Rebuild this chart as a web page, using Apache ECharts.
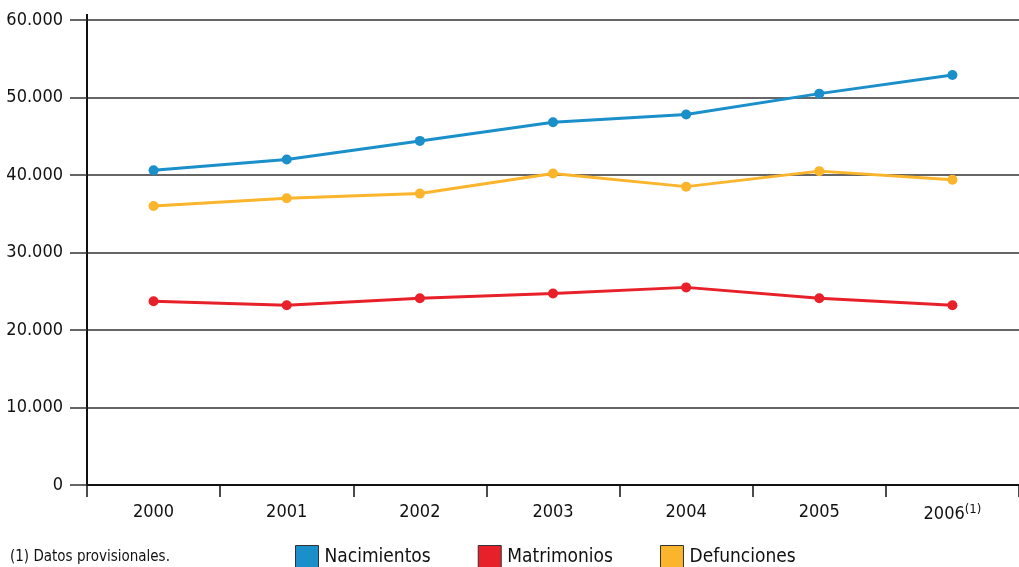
<!DOCTYPE html>
<html>
<head>
<meta charset="utf-8">
<script src="https://cdn.jsdelivr.net/npm/echarts@6/dist/echarts.min.js"></script>
<style>
html,body{margin:0;padding:0;background:#fff;}
#chart{width:1019px;height:567px;}
</style>
</head>
<body>
<div id="chart"></div>
<script>
var years = ['2000', '2001', '2002', '2003', '2004', '2005', '2006'];
var nacimientos = [40600, 42000, 44400, 46800, 47800, 50500, 52900];
var matrimonios = [23700, 23200, 24100, 24700, 25500, 24100, 23200];
var defunciones = [36000, 37000, 37600, 40200, 38500, 40500, 39400];
var seriesNames = ['Nacimientos', 'Matrimonios', 'Defunciones'];
var footnote = '(1) Datos provisionales.';

var FONT = "'DejaVu Sans Condensed', 'Roboto', sans-serif";
var colors = ['#1a8fca', '#e8202a', '#fbb52c'];

function fmt(v) {
  return String(v).replace(/\B(?=(\d{3})+(?!\d))/g, '.');
}

var chart = echarts.init(document.getElementById('chart'));
var seriesData = [nacimientos, matrimonios, defunciones];
chart.setOption({
  animation: false,
  color: colors,
  textStyle: { fontFamily: FONT },
  title: {
    text: footnote,
    left: 5,
    top: 545,
    textStyle: { fontFamily: FONT, fontSize: 15, fontWeight: 'normal', color: '#111' }
  },
  legend: {
    left: 290,
    top: 540,
    itemWidth: 23,
    itemHeight: 23,
    itemGap: 47,
    icon: 'rect',
    textStyle: { fontFamily: FONT, fontSize: 19, color: '#111', padding: [0, 0, 0, 1] },
    data: seriesNames.map(function (n, i) {
      return { name: n, itemStyle: { color: colors[i], borderColor: '#333', borderWidth: 1 } };
    })
  },
  graphic: [{
    type: 'line',
    shape: { x1: 87, y1: 14, x2: 87, y2: 21 },
    style: { stroke: '#111', lineWidth: 2 }
  }],
  grid: { left: 87, top: 20, width: 936, bottom: 82 },
  xAxis: {
    type: 'category',
    data: years,
    boundaryGap: true,
    axisLine: { lineStyle: { color: '#111', width: 2 } },
    axisTick: { show: true, interval: 0, length: 12, lineStyle: { color: '#111', width: 1.5 } },
    axisLabel: {
      interval: 0,
      margin: 18,
      fontFamily: FONT,
      fontSize: 18,
      color: '#111',
      formatter: function (v, i) { return i === years.length - 1 ? v + '{sup|(1)}' : v; },
      rich: { sup: { fontFamily: FONT, fontSize: 13, color: '#111', verticalAlign: 'top', padding: [0, 0, 10, 0] } }
    }
  },
  yAxis: {
    type: 'value',
    min: 0,
    max: 60000,
    interval: 10000,
    axisLine: { show: true, lineStyle: { color: '#111', width: 2 } },
    axisTick: { show: true, length: 17, lineStyle: { color: '#333', width: 1.5 } },
    axisLabel: {
      margin: 24,
      fontFamily: FONT,
      fontSize: 18,
      color: '#111',
      formatter: fmt
    },
    splitLine: { lineStyle: { color: '#333', width: 1.5 } }
  },
  series: seriesNames.map(function (n, i) {
    return {
      name: n,
      type: 'line',
      data: seriesData[i],
      symbol: 'circle',
      symbolSize: 10,
      lineStyle: { width: 3, color: colors[i] },
      itemStyle: { color: colors[i] }
    };
  })
});
</script>
</body>
</html>
